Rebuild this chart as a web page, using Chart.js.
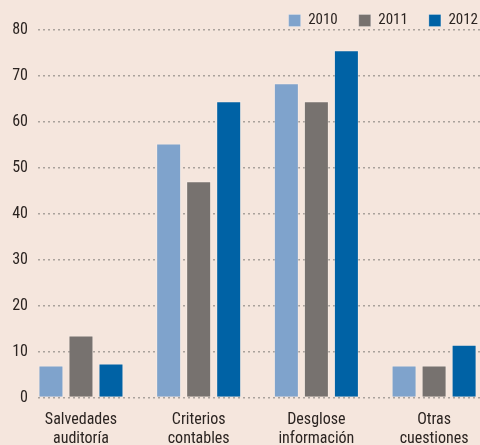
<!DOCTYPE html>
<html>
<head>
<meta charset="utf-8">
<script src="https://cdn.jsdelivr.net/npm/chart.js@4"></script>
<style>
  html, body { margin: 0; padding: 0; background: #f5e6dd; }
  #wrap { width: 480px; height: 445px; position: relative; }
</style>
</head>
<body>
<div id="wrap"><canvas id="barChart"></canvas></div>
<script>
(function () {
  "use strict";

  // data
  const categories = [
    ['Salvedades', 'auditoría'],
    ['Criterios', 'contables'],
    ['Desglose', 'información'],
    ['Otras', 'cuestiones']
  ];
  const years = ['2010', '2011', '2012'];
  const values2010 = [7.0, 55.3, 68.4, 7.0];
  const values2011 = [13.5, 47.1, 64.5, 7.0];
  const values2012 = [7.4, 64.5, 75.6, 11.5];
  const yTicks = [0, 10, 20, 30, 40, 50, 60, 70, 80];

  // colours
  const c_2010 = '#7fa3cc';
  const c_2011 = '#77726f';
  const c_2012 = '#0062a5';
  const bar_edge = 'rgba(255,255,255,0.25)';
  const text_color = '#2b2421';
  const grid_color = '#aaa29c';
  const font_family = "'Roboto Condensed', 'DejaVu Sans Condensed', sans-serif";

  const toPoints = (arr) => arr.map((v, i) => ({ x: i, y: v }));

  // nudge the legend into the top right corner, keep its box tall enough not to clip
  const legendNudge = {
    id: 'legendNudge',
    afterLayout(chart) {
      const lg = chart.legend;
      if (!lg) return;
      lg.top = -8;
      lg.bottom = 40;
      lg.height = lg.bottom - lg.top;
      lg.left += 19;
      lg.right += 19;
    }
  };

  const ctx = document.getElementById('barChart').getContext('2d');
  new Chart(ctx, {
    type: 'bar',
    data: {
      datasets: [
        { label: years[0], data: toPoints(values2010), backgroundColor: c_2010 },
        { label: years[1], data: toPoints(values2011), backgroundColor: c_2011 },
        { label: years[2], data: toPoints(values2012), backgroundColor: c_2012 }
      ]
    },
    plugins: [legendNudge],
    options: {
      responsive: true,
      maintainAspectRatio: false,
      animation: false,
      barPercentage: 0.833,
      categoryPercentage: 0.765,
      borderWidth: 1,
      borderColor: bar_edge,
      layout: { padding: { top: 0, right: 0, bottom: -9, left: 0 } },
      scales: {
        x: {
          type: 'linear',
          offset: false,
          min: -0.365,
          max: 3.39,
          afterBuildTicks: (axis) => {
            axis.ticks = categories.map((_, i) => ({ value: i }));
          },
          grid: { display: false },
          border: { display: false },
          ticks: {
            color: text_color,
            font: { family: font_family, size: 16 },
            padding: 5,
            maxRotation: 0,
            autoSkip: false,
            callback: (v) => categories[v]
          }
        },
        y: {
          min: 0,
          max: 80,
          afterBuildTicks: (axis) => {
            axis.ticks = yTicks.map((v) => ({ value: v }));
          },
          afterFit: (axis) => { axis.width = 38; },
          border: { display: false, dash: [2, 3] },
          grid: {
            color: grid_color,
            lineWidth: 1.5,
            drawTicks: false
          },
          ticks: {
            color: text_color,
            font: { family: font_family, size: 16 },
            padding: 10
          }
        }
      },
      plugins: {
        legend: {
          position: 'top',
          align: 'end',
          maxHeight: 30,
          labels: {
            boxWidth: 12,
            boxHeight: 12,
            padding: 21,
            color: text_color,
            font: { family: font_family, size: 15 }
          }
        },
        tooltip: { enabled: false }
      }
    }
  });
})();
</script>
</body>
</html>
